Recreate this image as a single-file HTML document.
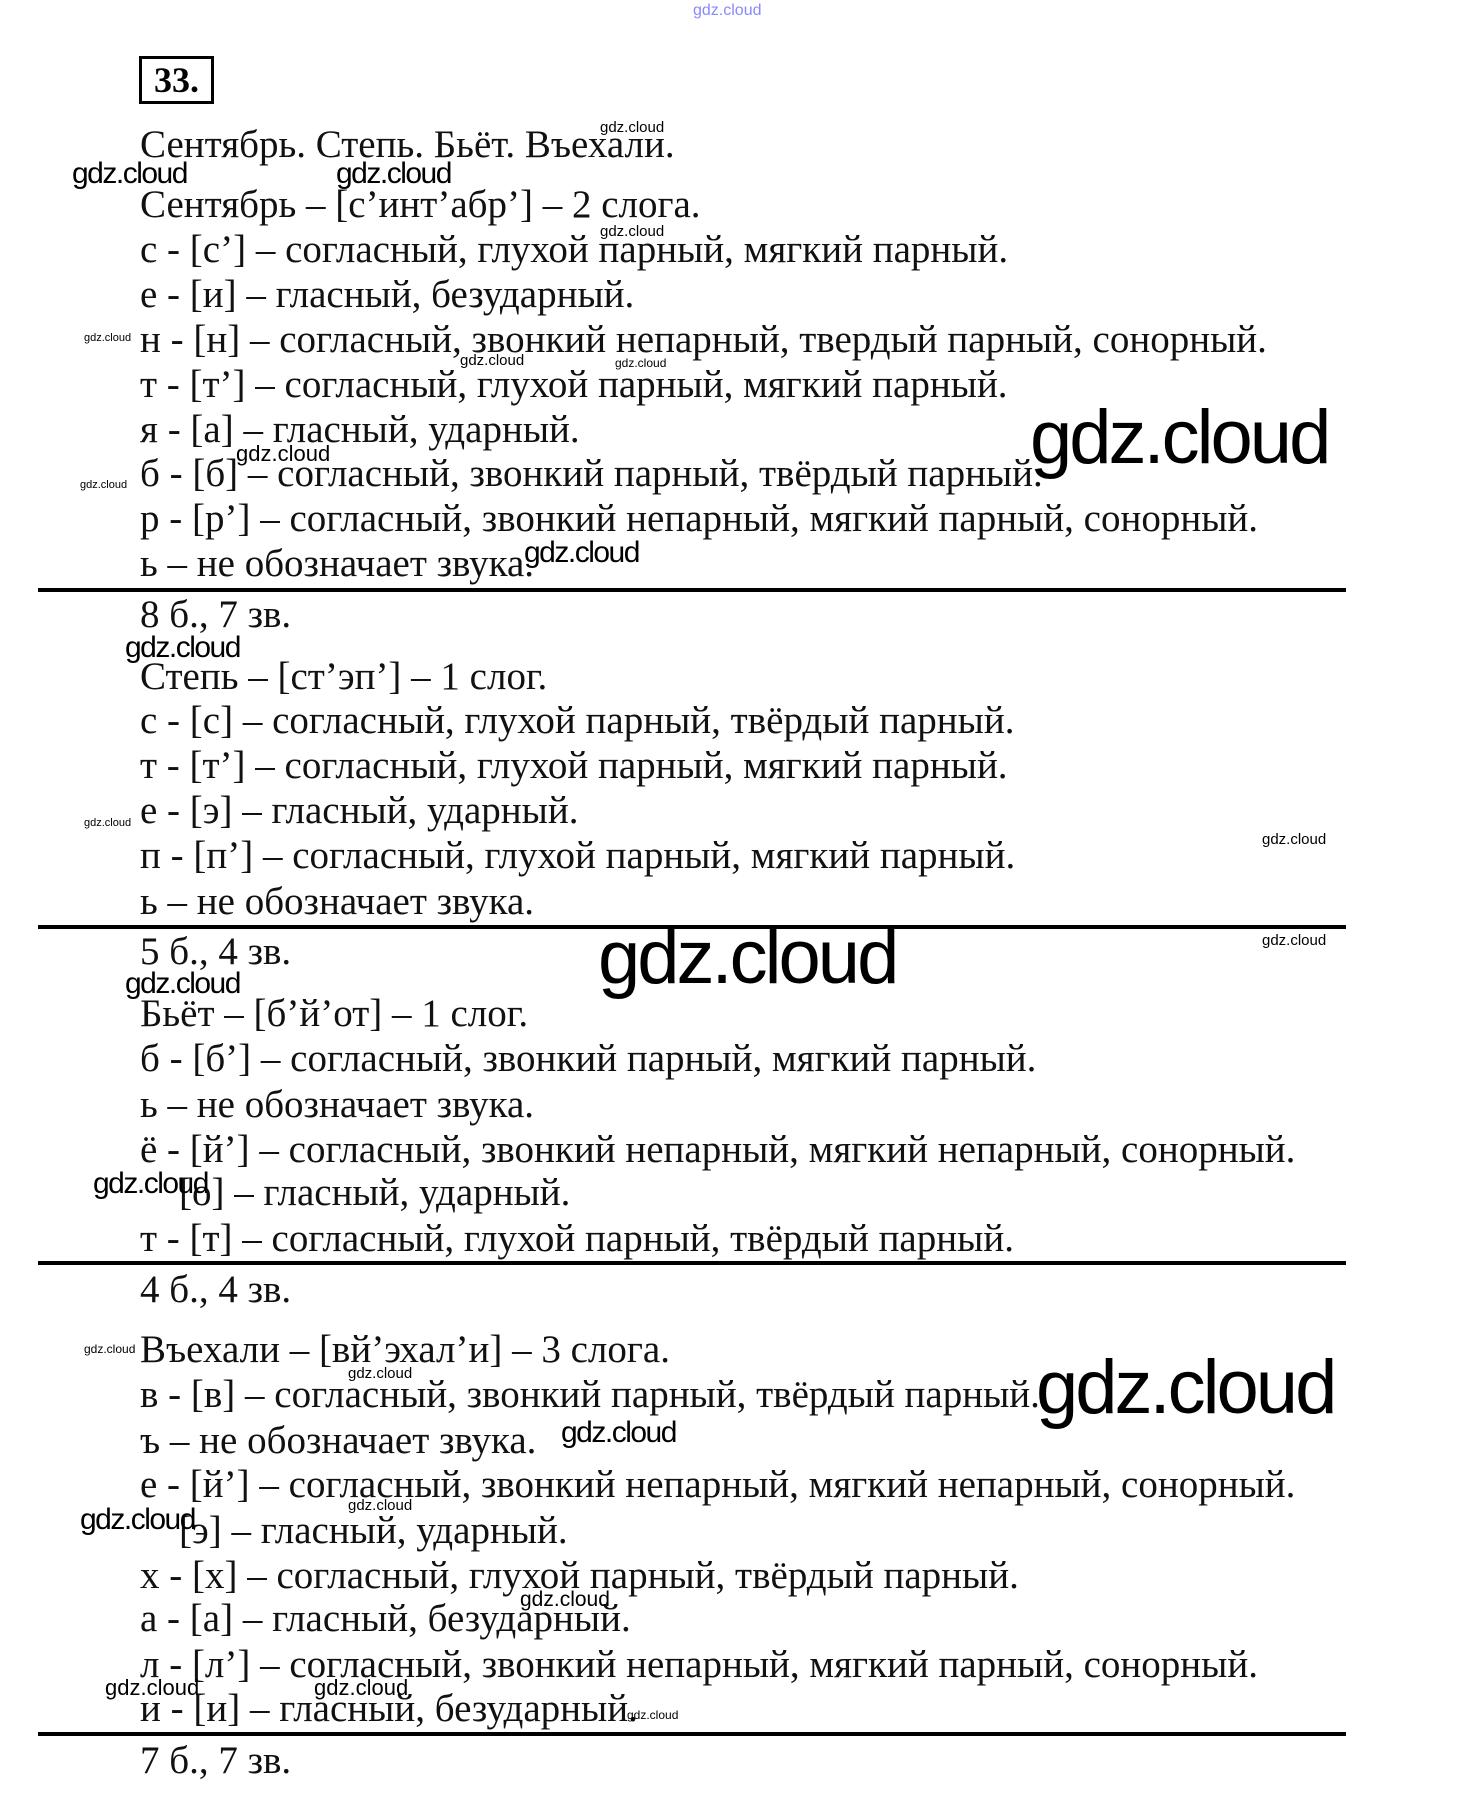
<!DOCTYPE html>
<html><head><meta charset="utf-8"><style>
body{margin:0;width:1460px;height:1819px;background:#fff;position:relative;overflow:hidden}
.t{position:absolute;left:140px;height:44px;line-height:44px;font-family:"Liberation Serif","Noto Serif CJK SC",serif;font-size:39px;color:#111;white-space:nowrap}
.r{position:absolute;left:38px;width:1308px;height:4px;background:#000}
.w{position:absolute;font-family:"Liberation Sans","DejaVu Sans",sans-serif;color:#000;white-space:nowrap;line-height:1}
.s{font-size:15px}.m{font-size:30px;letter-spacing:-1.5px}.b{font-size:76px;letter-spacing:-3px}
</style></head><body>
<div class="w" style="left:693px;top:3px;font-size:16px;color:#88f">gdz.cloud</div>
<div style="position:absolute;left:139px;top:56px;width:69px;height:42px;border:3px solid #000;font-family:'Liberation Serif',serif;font-weight:bold;font-size:36px;line-height:42px;text-align:center">33.</div>
<div class="t" style="top:123px">Сентябрь. Степь. Бьёт. Въехали.</div>
<div class="t" style="top:183px">Сентябрь – [с’инт’абр’] – 2 слога.</div>
<div class="t" style="top:228px">с - [с’] – согласный, глухой парный, мягкий парный.</div>
<div class="t" style="top:273px">е - [и] – гласный, безударный.</div>
<div class="t" style="top:318px">н - [н] – согласный, звонкий непарный, твердый парный, сонорный.</div>
<div class="t" style="top:363px">т - [т’] – согласный, глухой парный, мягкий парный.</div>
<div class="t" style="top:408px">я - [а] – гласный, ударный.</div>
<div class="t" style="top:452px">б - [б] – согласный, звонкий парный, твёрдый парный.</div>
<div class="t" style="top:497px">р - [р’] – согласный, звонкий непарный, мягкий парный, сонорный.</div>
<div class="t" style="top:542px">ь – не обозначает звука.</div>
<div class="r" style="top:588px"></div>
<div class="t" style="top:593px">8 б., 7 зв.</div>
<div class="t" style="top:655px">Степь – [ст’эп’] – 1 слог.</div>
<div class="t" style="top:699px">с - [с] – согласный, глухой парный, твёрдый парный.</div>
<div class="t" style="top:744px">т - [т’] – согласный, глухой парный, мягкий парный.</div>
<div class="t" style="top:789px">е - [э] – гласный, ударный.</div>
<div class="t" style="top:834px">п - [п’] – согласный, глухой парный, мягкий парный.</div>
<div class="t" style="top:880px">ь – не обозначает звука.</div>
<div class="r" style="top:925px"></div>
<div class="t" style="top:930px">5 б., 4 зв.</div>
<div class="t" style="top:992px">Бьёт – [б’й’от] – 1 слог.</div>
<div class="t" style="top:1037px">б - [б’] – согласный, звонкий парный, мягкий парный.</div>
<div class="t" style="top:1083px">ь – не обозначает звука.</div>
<div class="t" style="top:1128px">ё - [й’] – согласный, звонкий непарный, мягкий непарный, сонорный.</div>
<div class="t" style="top:1171px">&nbsp;&nbsp;&nbsp;&nbsp;[о] – гласный, ударный.</div>
<div class="t" style="top:1217px">т - [т] – согласный, глухой парный, твёрдый парный.</div>
<div class="r" style="top:1261px"></div>
<div class="t" style="top:1268px">4 б., 4 зв.</div>
<div class="t" style="top:1328px">Въехали – [вй’эхал’и] – 3 слога.</div>
<div class="t" style="top:1373px">в - [в] – согласный, звонкий парный, твёрдый парный.</div>
<div class="t" style="top:1419px">ъ – не обозначает звука.</div>
<div class="t" style="top:1463px">е - [й’] – согласный, звонкий непарный, мягкий непарный, сонорный.</div>
<div class="t" style="top:1509px">&nbsp;&nbsp;&nbsp;&nbsp;[э] – гласный, ударный.</div>
<div class="t" style="top:1554px">х - [х] – согласный, глухой парный, твёрдый парный.</div>
<div class="t" style="top:1597px">а - [а] – гласный, безударный.</div>
<div class="t" style="top:1643px">л - [л’] – согласный, звонкий непарный, мягкий парный, сонорный.</div>
<div class="t" style="top:1687px">и - [и] – гласный, безударный.</div>
<div class="r" style="top:1732px"></div>
<div class="t" style="top:1739px">7 б., 7 зв.</div>

<div class="w s" style="left:600px;top:120px">gdz.cloud</div>
<div class="w m" style="left:72px;top:159px">gdz.cloud</div>
<div class="w m" style="left:336px;top:159px">gdz.cloud</div>
<div class="w s" style="left:600px;top:224px">gdz.cloud</div>
<div class="w" style="left:84px;top:333px;font-size:11px">gdz.cloud</div>
<div class="w s" style="left:460px;top:353px">gdz.cloud</div>
<div class="w" style="left:615px;top:357px;font-size:12px">gdz.cloud</div>
<div class="w b" style="left:1030px;top:400px">gdz.cloud</div>
<div class="w" style="left:236px;top:443px;font-size:22px">gdz.cloud</div>
<div class="w" style="left:80px;top:480px;font-size:11px">gdz.cloud</div>
<div class="w m" style="left:524px;top:538px">gdz.cloud</div>
<div class="w m" style="left:125px;top:633px">gdz.cloud</div>
<div class="w" style="left:84px;top:818px;font-size:11px">gdz.cloud</div>
<div class="w s" style="left:1262px;top:832px">gdz.cloud</div>
<div class="w b" style="left:598px;top:920px">gdz.cloud</div>
<div class="w s" style="left:1262px;top:933px">gdz.cloud</div>
<div class="w m" style="left:125px;top:969px">gdz.cloud</div>
<div class="w m" style="left:93px;top:1169px">gdz.cloud</div>
<div class="w" style="left:84px;top:1343px;font-size:12px">gdz.cloud</div>
<div class="w s" style="left:348px;top:1366px">gdz.cloud</div>
<div class="w b" style="left:1036px;top:1350px">gdz.cloud</div>
<div class="w m" style="left:561px;top:1418px">gdz.cloud</div>
<div class="w m" style="left:80px;top:1505px">gdz.cloud</div>
<div class="w s" style="left:348px;top:1498px">gdz.cloud</div>
<div class="w" style="left:520px;top:1589px;font-size:21px">gdz.cloud</div>
<div class="w" style="left:105px;top:1677px;font-size:22px">gdz.cloud</div>
<div class="w" style="left:314px;top:1677px;font-size:22px">gdz.cloud</div>
<div class="w" style="left:627px;top:1709px;font-size:12px">gdz.cloud</div>
</body></html>
